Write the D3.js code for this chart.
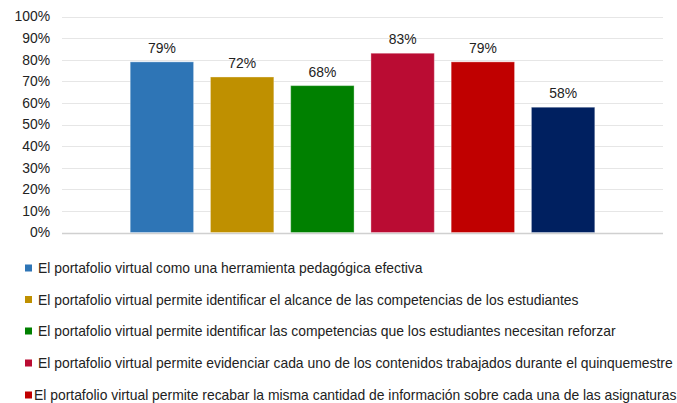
<!DOCTYPE html>
<html>
<head>
<meta charset="utf-8">
<script src="https://cdn.jsdelivr.net/npm/d3@7"></script>
<style>
  body { margin: 0; background: #fff; }
  text { font-family: "Liberation Sans", Arial, sans-serif; }
</style>
</head>
<body>
<script>
// data
var series = ["s1", "s2", "s3", "s4", "s5", "s6"];
var values = [79, 72, 68, 83, 79, 58];
var colors = ["#2E75B6", "#BF9000", "#008000", "#BA0C33", "#C00000", "#002060"];
var yTicks = [0, 10, 20, 30, 40, 50, 60, 70, 80, 90, 100];
var legendLabels = [
    "El portafolio virtual como una herramienta pedagógica efectiva",
    "El portafolio virtual permite identificar el alcance de las competencias de los estudiantes",
    "El portafolio virtual permite identificar las competencias que los estudiantes necesitan reforzar",
    "El portafolio virtual permite evidenciar cada uno de los contenidos trabajados durante el quinquemestre",
    "El portafolio virtual permite recabar la misma cantidad de información sobre cada una de las asignaturas"
];

var width = 677, height = 403;
var plotLeft = 62, plotRight = 663, plotTop = 16.5, plotBottom = 232.5;
var fontSize = "13.9px";

var svg = d3.select("body").append("svg")
    .attr("width", width)
    .attr("height", height);

var y = d3.scaleLinear().domain([0, 100]).range([plotBottom, plotTop]);
var x = d3.scaleBand().domain(series).range([plotLeft, plotRight])
    .paddingInner(0.21).paddingOuter(0.85);

//*********** grid + axis *******************
svg.append("g").selectAll("line")
    .data(yTicks)
    .join("line")
    .attr("x1", plotLeft)
    .attr("x2", plotRight)
    .attr("y1", function(d) { return Math.round(y(d)) + 0.5; })
    .attr("y2", function(d) { return Math.round(y(d)) + 0.5; })
    .attr("stroke", function(d) { return d == 0 ? "#d0d0d0" : "#e6e6e6"; })
    .attr("stroke-width", function(d) { return d == 0 ? 1.5 : 1; });

var yAxis = svg.append("g")
    .attr("transform", "translate(" + (plotLeft - 12) + ",0)")
    .call(d3.axisLeft(y).tickValues(yTicks).tickSize(0).tickPadding(0)
        .tickFormat(function(d) { return d + "%"; }));
yAxis.select(".domain").remove();
yAxis.selectAll("text")
    .style("font-size", fontSize)
    .style("font-family", "'Liberation Sans', Arial, sans-serif")
    .attr("fill", "#222");

//*********** bars *******************
svg.append("g").selectAll("rect")
    .data(values)
    .join("rect")
    .attr("x", function(d, i) { return x(series[i]); })
    .attr("y", function(d) { return y(d); })
    .attr("width", x.bandwidth())
    .attr("height", function(d) { return y(0) - y(d); })
    .attr("fill", function(d, i) { return colors[i]; })
    .attr("stroke", "#fff")
    .attr("stroke-opacity", 0.35)
    .attr("stroke-width", 1);

svg.append("g").selectAll("text")
    .data(values)
    .join("text")
    .attr("x", function(d, i) { return x(series[i]) + x.bandwidth() / 2; })
    .attr("y", function(d) { return y(d) - 9; })
    .attr("text-anchor", "middle")
    .style("font-size", fontSize)
    .attr("fill", "#222")
    .text(function(d) { return d + "%"; });

//*********** legend *******************
var legendY = [268, 299.5, 331, 363, 395];
var legend = svg.append("g").selectAll("g")
    .data(legendLabels)
    .join("g")
    .attr("transform", function(d, i) { return "translate(25," + legendY[i] + ")"; });

legend.append("rect")
    .attr("x", 0)
    .attr("y", -3.5)
    .attr("width", 7)
    .attr("height", 7)
    .attr("fill", function(d, i) { return colors[i]; });

legend.append("text")
    .attr("x", function(d, i) { return i == 4 ? 9 : 13; })
    .attr("y", 5)
    .style("font-size", fontSize)
    .attr("fill", "#222")
    .text(function(d) { return d; });
</script>
</body>
</html>
